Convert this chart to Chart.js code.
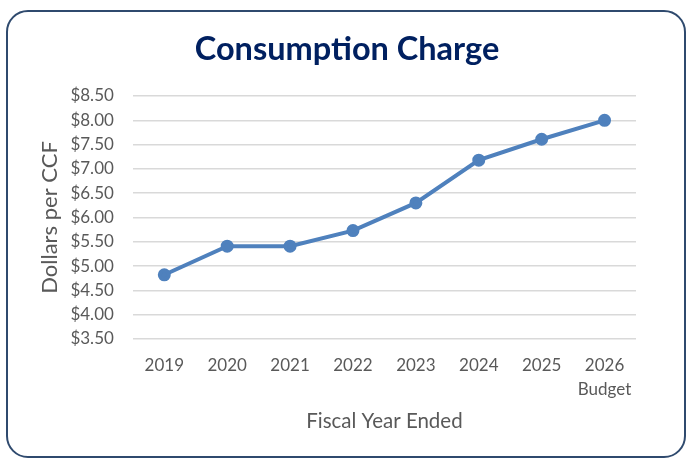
<!DOCTYPE html>
<html>
<head>
<meta charset="utf-8">
<script src="https://cdn.jsdelivr.net/npm/chart.js@4"></script>
<style>
    body { margin: 0; background: #ffffff; }
    #box {
        position: absolute; left: 6px; top: 10px; width: 680px; height: 448px;
        border: 2px solid #2f4a6e; border-radius: 22px; box-sizing: border-box;
    }
    #myChart { position: absolute; left: 0; top: 0; }
</style>
</head>
<body>
<div id="box"></div>
<canvas id="myChart" width="687" height="460"></canvas>
<script>
const years = ['2019', '2020', '2021', '2022', '2023', '2024', '2025', ['2026', 'Budget']];
const charges = [4.82, 5.41, 5.41, 5.73, 6.30, 7.18, 7.61, 8.00];
const yMin = 3.5;
const yMax = 8.5;

function renderChart() {
    const ctx = document.getElementById('myChart');

    new Chart(ctx, {
        type: 'line',
        data: {
            labels: years,
            datasets: [{
                label: 'Consumption Charge',
                data: charges,
                borderColor: '#4f81bd',
                backgroundColor: '#4f81bd',
                borderWidth: 4,
                pointRadius: 4.5,
                pointHoverRadius: 4.5,
                tension: 0
            }]
        },
        options: {
            responsive: false,
            animation: false,
            layout: {
                padding: { left: 37, right: 30, top: 16, bottom: 26 }
            },
            plugins: {
                legend: { display: false },
                tooltip: { enabled: false },
                title: {
                    display: true,
                    text: 'Consumption Charge',
                    color: '#002060',
                    font: { family: 'Lato', size: 32.5, weight: 'bold', lineHeight: 1.2 },
                    padding: { top: 14, bottom: 27 }
                }
            },
            scales: {
                x: {
                    offset: true,
                    grid: { display: false, drawTicks: false },
                    border: { display: false },
                    ticks: {
                        autoSkip: false,
                        color: '#595959',
                        font: { family: 'Lato', size: 17, lineHeight: 1.44 },
                        padding: 14,
                        maxRotation: 0
                    },
                    title: {
                        display: true,
                        text: 'Fiscal Year Ended',
                        color: '#595959',
                        font: { family: 'Lato', size: 20.5 },
                        padding: { top: 7.5, bottom: 0 }
                    },
                    // chart.js reserves the tick padding twice, drop the extra
                    afterFit: function (scale) { scale.height -= 14; }
                },
                y: {
                    min: yMin,
                    max: yMax,
                    grid: { color: '#d9d9d9', lineWidth: 1.5, drawTicks: false },
                    border: { display: false },
                    ticks: {
                        autoSkip: false,
                        stepSize: 0.5,
                        color: '#595959',
                        font: { family: 'Lato', size: 17, lineHeight: 1 },
                        padding: 19,
                        callback: function (v) { return '$' + v.toFixed(2); }
                    },
                    title: {
                        display: true,
                        text: 'Dollars per CCF',
                        color: '#595959',
                        font: { family: 'Lato', size: 22 },
                        padding: { top: 0, bottom: 7 }
                    },
                    afterFit: function (scale) { scale.width -= 19; }
                },
                // empty right axis so the title centres on the framed box
                yRight: {
                    type: 'linear',
                    position: 'right',
                    grid: { display: false, drawTicks: false },
                    border: { display: false },
                    ticks: { display: false },
                    afterFit: function (scale) { scale.width = 21; }
                }
            }
        }
    });
}

renderChart();
</script>
</body>
</html>
